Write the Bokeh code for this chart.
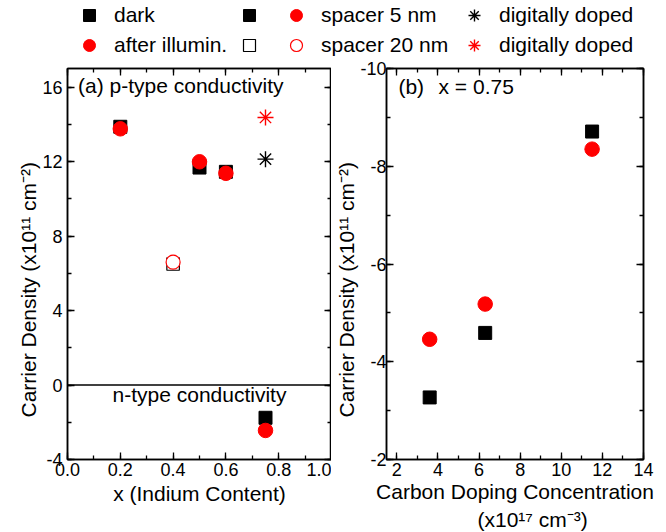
from bokeh.plotting import figure
from bokeh.layouts import column, row
from bokeh.models import (Range1d, SingleIntervalTicker, LinearAxis, Span, Label, Title,
                          Legend, LegendItem, PrintfTickFormatter, CustomJSTickFormatter,
                          ColumnDataSource)
from bokeh.embed import file_html
from bokeh.resources import INLINE

# ---------------- data ----------------
# panel (a): carrier density (x10^11 cm^-2) vs indium content x
indium_5nm = [0.2, 0.5, 0.6]
dark_5nm = [13.87, 11.68, 11.45]
illum_5nm = [13.76, 11.99, 11.37]

indium_20nm = [0.4]
dark_20nm = [6.5]
illum_20nm = [6.6]

indium_dd = [0.75]
dark_dd = [12.13]
illum_dd = [14.37]

indium_ntype = [0.75]
dark_ntype = [-1.76]
illum_ntype = [-2.44]

# panel (b): x = 0.75, carrier density vs carbon doping (x10^17 cm^-3)
carbon = [3.6, 6.3, 11.5]
dark_b = [-3.27, -4.59, -8.71]
illum_b = [-4.46, -5.18, -8.35]

FONT = "Liberation Sans"
TICK_FS = "18px"
TEXT_FS = "21px"
YLABEL = "Carrier Density (x10\u00b9\u00b9 cm\u207b\u00b2)"
XLABEL_A = "x (Indium Content)"
XLABEL_B1 = "Carbon Doping Concentration"
XLABEL_B2 = "(x10\u00b9\u2077 cm\u207b\u00b3)"


def style_axis(ax, labels=True, standoff=2, label_standoff=3):
    ax.axis_line_color = "black"
    ax.axis_line_width = 1.5
    ax.major_tick_in = 7
    ax.major_tick_out = 0
    ax.minor_tick_in = 4
    ax.minor_tick_out = 0
    ax.major_tick_line_color = "black"
    ax.minor_tick_line_color = "black"
    ax.major_tick_line_width = 1.3
    ax.minor_tick_line_width = 1.3
    ax.major_label_text_font = FONT
    ax.major_label_text_font_size = TICK_FS
    ax.major_label_text_color = "black"
    ax.major_label_standoff = standoff
    ax.axis_label_text_font = FONT
    ax.axis_label_text_font_size = TEXT_FS
    ax.axis_label_text_font_style = "normal"
    ax.axis_label_text_color = "black"
    ax.axis_label_standoff = label_standoff
    if not labels:
        ax.formatter = CustomJSTickFormatter(code="return ''")
        ax.major_label_text_font_size = "0px"
        ax.major_label_standoff = 0


def frame_setup(p, xint, yint, xfmt, yfmt, ystand, xlab_stand):
    p.grid.visible = False
    p.outline_line_color = "black"
    p.outline_line_width = 1.5
    xa = p.below[0]
    ya = p.left[0]
    xa.ticker = SingleIntervalTicker(interval=xint, num_minor_ticks=2)
    ya.ticker = SingleIntervalTicker(interval=yint, num_minor_ticks=2)
    xa.formatter = PrintfTickFormatter(format=xfmt)
    ya.formatter = PrintfTickFormatter(format=yfmt)
    style_axis(xa, standoff=3, label_standoff=xlab_stand)
    style_axis(ya, standoff=ystand)
    top = LinearAxis(ticker=SingleIntervalTicker(interval=xint, num_minor_ticks=2))
    right = LinearAxis(ticker=SingleIntervalTicker(interval=yint, num_minor_ticks=2))
    style_axis(top, labels=False)
    style_axis(right, labels=False)
    p.add_layout(top, "above")
    p.add_layout(right, "right")
    return xa, ya


def text_label(p, x, y, t, align="left"):
    p.add_layout(Label(x=x, y=y, text=t, text_font=FONT, text_font_size=TEXT_FS,
                       text_color="black", text_align=align, text_baseline="middle"))


def side_title(p, t, side, offset):
    p.add_layout(Title(text=t, align="left", offset=offset, standoff=0,
                       text_font=FONT, text_font_size=TEXT_FS,
                       text_font_style="normal", text_color="black"), side)


# ---------------- legend strip ----------------
leg = figure(width=666, height=60, x_range=Range1d(0, 1), y_range=Range1d(0, 1),
             x_axis_type=None, y_axis_type=None, min_border=0,
             output_backend="svg", toolbar_location=None)
leg.outline_line_color = None
nan = float("nan")
dummy = ColumnDataSource(data=dict(x=[nan], y=[nan]))
lr_dark = leg.scatter("x", "y", source=dummy, marker="square", size=12, color="black")
lr_ill = leg.scatter("x", "y", source=dummy, marker="circle", size=12, color="red")
lr_sq5 = leg.scatter("x", "y", source=dummy, marker="square", size=12, color="black")
lr_sq20 = leg.scatter("x", "y", source=dummy, marker="square", size=12,
                      fill_color="white", line_color="black", line_width=1.2)
lr_ci5 = leg.scatter("x", "y", source=dummy, marker="circle", size=12, color="red")
lr_ci20 = leg.scatter("x", "y", source=dummy, marker="circle", size=12,
                      fill_color="white", line_color="red", line_width=1.2)
lr_ddk = leg.scatter("x", "y", source=dummy, marker="asterisk", size=12,
                     line_color="black", line_width=1.4)
lr_ddr = leg.scatter("x", "y", source=dummy, marker="asterisk", size=12,
                     line_color="red", line_width=1.4)


def make_legend(items, x):
    lg = Legend(items=items, location=(x, 0), orientation="vertical", padding=0,
                margin=0, spacing=-2, glyph_width=30, glyph_height=30,
                label_standoff=10, label_text_font=FONT, label_text_font_size=TEXT_FS,
                label_text_color="black", border_line_color=None,
                background_fill_alpha=0)
    leg.add_layout(lg)


make_legend([LegendItem(label="dark", renderers=[lr_dark]),
             LegendItem(label="after illumin.", renderers=[lr_ill])], 74)
make_legend([LegendItem(label=" ", renderers=[lr_sq5]),
             LegendItem(label=" ", renderers=[lr_sq20])], 234)
make_legend([LegendItem(label="spacer 5 nm", renderers=[lr_ci5]),
             LegendItem(label="spacer 20 nm", renderers=[lr_ci20])], 281)
make_legend([LegendItem(label="digitally doped", renderers=[lr_ddk]),
             LegendItem(label="digitally doped", renderers=[lr_ddr])], 459)

# ---------------- panel (a) ----------------
pa = figure(width=331, height=472, x_range=Range1d(0, 1), y_range=Range1d(-4, 17),
            min_border_left=67, min_border_right=0, min_border_top=8,
            min_border_bottom=73, output_backend="svg", toolbar_location=None)
xa_a, ya_a = frame_setup(pa, 0.2, 4, "%.1f", "%d", 5, 3)
xa_a.axis_label = XLABEL_A
side_title(pa, YLABEL, "left", 42)
pa.add_layout(Span(location=0, dimension="width", line_color="black", line_width=1.5))

pa.scatter(indium_5nm, dark_5nm, marker="square", size=13, color="black")
pa.scatter(indium_ntype, dark_ntype, marker="square", size=13, color="black")
pa.scatter(indium_20nm, dark_20nm, marker="square", size=12.5, fill_color="white",
           line_color="black", line_width=1.2)
pa.scatter(indium_5nm, illum_5nm, marker="circle", size=14.5, color="red")
pa.scatter(indium_ntype, illum_ntype, marker="circle", size=14.5, color="red")
pa.scatter(indium_20nm, illum_20nm, marker="circle", size=14, fill_color="white",
           line_color="red", line_width=1.2)
pa.scatter(indium_dd, dark_dd, marker="asterisk", size=16, line_color="black", line_width=1.4)
pa.scatter(indium_dd, illum_dd, marker="asterisk", size=16, line_color="red", line_width=1.4)

text_label(pa, 0.04, 16.1, "(a) p-type conductivity")
text_label(pa, 0.5, -0.5, "n-type conductivity", align="center")

# ---------------- panel (b) ----------------
pb = figure(width=335, height=472, x_range=Range1d(1.5, 14), y_range=Range1d(-2, -10),
            min_border_left=55, min_border_right=23, min_border_top=8,
            min_border_bottom=73, output_backend="svg", toolbar_location=None)
xa_b, ya_b = frame_setup(pb, 2, 2, "%d", "%d", 0, 1)
xa_b.axis_label = XLABEL_B1
side_title(pb, YLABEL, "left", 42)
side_title(pb, XLABEL_B2, "below", 91)

pb.scatter(carbon, dark_b, marker="square", size=13, color="black")
pb.scatter(carbon, illum_b, marker="circle", size=14.5, color="red")

text_label(pb, 2.08, -9.64, "(b)")
text_label(pb, 4.03, -9.64, "x = 0.75")

layout = column(leg, row(pa, pb))
open("out.html", "w").write(file_html(layout, INLINE))
